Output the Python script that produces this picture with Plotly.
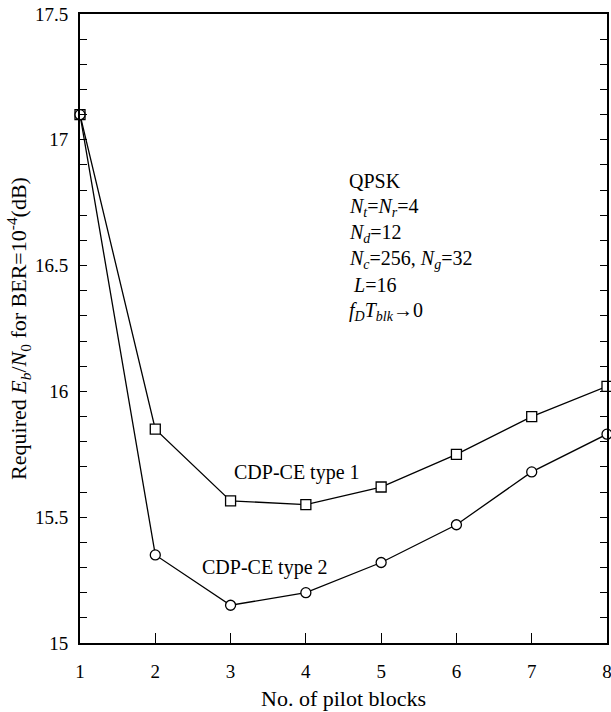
import plotly.graph_objects as go

pilot_blocks = [1, 2, 3, 4, 5, 6, 7, 8]
type1 = [17.10, 15.85, 15.565, 15.55, 15.62, 15.75, 15.90, 16.02]
type2 = [17.10, 15.35, 15.15, 15.20, 15.32, 15.47, 15.68, 15.83]
y_tickvals = [15, 15.5, 16, 16.5, 17, 17.5]
y_ticktext = ["15", "15.5", "16", "16.5", "17", "17.5"]
info_lines = [
    "QPSK",
    "<i>N<sub>t</sub></i>=<i>N<sub>r</sub></i>=4",
    "<i>N<sub>d</sub></i>=12",
    "<i>N<sub>c</sub></i>=256, <i>N<sub>g</sub></i>=32",
    " <i>L</i>=16",
    "<i>f<sub>D</sub>T<sub>blk</sub></i>→0",
]

FONT = "Liberation Serif"

fig = go.Figure()
for ys, sym in ((type1, "square"), (type2, "circle")):
    fig.add_trace(go.Scatter(
        x=pilot_blocks, y=ys, mode="lines+markers",
        line=dict(color="black", width=1.3),
        marker=dict(symbol=sym, size=10, color="white", line=dict(color="black", width=1.3)),
        cliponaxis=False, showlegend=False))

fig.add_annotation(x=3.02, y=15.676, text="CDP-CE type 1", showarrow=False,
                   xanchor="left", yanchor="middle", font=dict(size=20, family=FONT, color="black"))
fig.add_annotation(x=2.594, y=15.302, text="CDP-CE type 2", showarrow=False,
                   xanchor="left", yanchor="middle", font=dict(size=20, family=FONT, color="black"))

y0 = 16.836
for i, t in enumerate(info_lines):
    fig.add_annotation(x=4.55, y=y0 - i * 0.1035, text=t, showarrow=False,
                       xanchor="left", yanchor="middle",
                       font=dict(size=20, family=FONT, color="black"))

fig.update_xaxes(range=[1, 8], tickvals=pilot_blocks, ticks="inside", ticklen=10,
                 tickwidth=1.3, tickcolor="black", showline=True, linecolor="black",
                 linewidth=2, mirror=True, showgrid=False, zeroline=False,
                 ticklabelstandoff=10, ticklabeloverflow="allow", automargin=False,
                 title=dict(text="No. of pilot blocks", font=dict(size=22, family=FONT, color="black"),
                            standoff=10),
                 tickfont=dict(size=19, family=FONT, color="black"))
fig.update_yaxes(range=[15, 17.5], tickvals=y_tickvals, ticktext=y_ticktext,
                 ticks="inside", ticklen=7, tickwidth=1.3, tickcolor="black",
                 minor=dict(ticks="inside", dtick=0.1, ticklen=7, tickwidth=1.3, tickcolor="black"),
                 showline=True, linecolor="black", linewidth=2, mirror="ticks",
                 showgrid=False, zeroline=False, ticklabelstandoff=6,
                 ticklabeloverflow="allow", automargin=False,
                 title=dict(text="Required <i>E<sub>b</sub></i>/<i>N</i><sub>0</sub> for BER=10<sup>-4</sup>(dB)",
                            font=dict(size=22, family=FONT, color="black"), standoff=2),
                 tickfont=dict(size=19, family=FONT, color="black"))

fig.update_layout(width=611, height=712, margin=dict(l=80, r=4, t=14, b=69, autoexpand=False),
                  plot_bgcolor="white", paper_bgcolor="white",
                  font=dict(family=FONT, color="black"))

fig.write_html("out.html", config={"displayModeBar": False},
               post_script="document.body.style.margin='0';document.body.style.overflow='hidden';")
